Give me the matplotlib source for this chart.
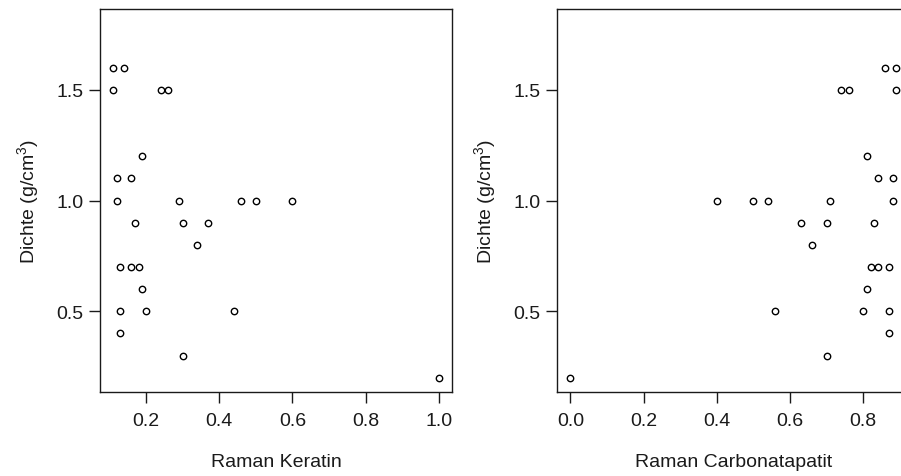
import matplotlib
matplotlib.use("Agg")
import matplotlib.pyplot as plt
import numpy as np

plt.rcParams['font.family'] = ['Liberation Sans', 'DejaVu Sans']
plt.rcParams['mathtext.fontset'] = 'custom'
plt.rcParams['mathtext.rm'] = 'Liberation Sans'
plt.rcParams['mathtext.it'] = 'Liberation Sans'

# Data
dichte_keratin = [1.6, 1.6, 1.5, 1.5, 1.5, 1.2, 1.1, 1.1, 1.0, 1.0, 1.0, 1.0, 1.0,
                  0.9, 0.9, 0.9, 0.8, 0.7, 0.7, 0.7, 0.6, 0.5, 0.5, 0.5, 0.4, 0.3, 0.2]
raman_keratin = [0.11, 0.14, 0.11, 0.24, 0.26, 0.19, 0.12, 0.16, 0.12, 0.29, 0.46, 0.50, 0.60,
                 0.17, 0.30, 0.37, 0.34, 0.13, 0.16, 0.18, 0.19, 0.13, 0.20, 0.44, 0.13, 0.30, 1.00]

dichte_carb = [1.6, 1.6, 1.5, 1.5, 1.5, 1.2, 1.1, 1.1, 1.0, 1.0, 1.0, 1.0, 1.0,
               0.9, 0.9, 0.9, 0.8, 0.7, 0.7, 0.7, 0.6, 0.5, 0.5, 0.5, 0.4, 0.3, 0.2]
raman_carb = [0.86, 0.89, 0.74, 0.76, 0.89, 0.81, 0.84, 0.88, 0.40, 0.50, 0.54, 0.71, 0.88,
              0.63, 0.70, 0.83, 0.66, 0.82, 0.84, 0.87, 0.81, 0.56, 0.80, 0.87, 0.87, 0.70, 0.00]

y_ticks = [0.5, 1.0, 1.5]
y_ticklabels = ["0.5", "1.0", "1.5"]
x_ticks_left = [0.2, 0.4, 0.6, 0.8, 1.0]
x_ticks_right = [0.0, 0.2, 0.4, 0.6, 0.8]
ylim_data = (0.2, 1.8)

W, H = 901, 477
fig = plt.figure(figsize=(W / 100, H / 100), dpi=100)

def r_lim(lo, hi):
    pad = 0.04 * (hi - lo)
    return lo - pad, hi + pad

FS = 14
ax_w = 352 / W
ax_h = 383 / H
ax_b = 84 / H
axes_info = [
    (100 / W, raman_keratin, dichte_keratin, x_ticks_left, "Raman Keratin"),
    (557.3 / W, raman_carb, dichte_carb, x_ticks_right, "Raman Carbonatapatit"),
]
for left, xs, ys, xt, xlabel in axes_info:
    ax = fig.add_axes([left, ax_b, ax_w, ax_h])
    ax.plot(xs, ys, linestyle='none', marker='o', markersize=4.6,
            markerfacecolor='none', markeredgecolor='black', markeredgewidth=1.0)
    ax.set_xlim(*r_lim(min(xs), max(xs)))
    ax.set_ylim(*r_lim(*ylim_data))
    ax.set_xticks(xt)
    ax.set_xticklabels([f"{v:.1f}" for v in xt])
    ax.set_yticks(y_ticks)
    ax.set_yticklabels(y_ticklabels)
    for s in ax.spines.values():
        s.set_linewidth(1.0)
        s.set_color('#1a1a1a')
    ax.tick_params(axis='both', direction='out', length=8, width=1.0,
                   color='#1a1a1a', labelsize=FS, labelcolor='#1a1a1a')
    ax.tick_params(axis='x', pad=6.5)
    ax.tick_params(axis='y', pad=4)
    ax.set_xlabel(xlabel, fontsize=FS, color='#1a1a1a')
    ax.xaxis.label.set_va('center')
    ax.xaxis.set_label_coords(0.5, (393 - 463) / 383)
    ax.set_ylabel("Dichte (g/cm$^3$)", fontsize=FS, color='#1a1a1a')
    ax.yaxis.label.set_va('center')
    ax.yaxis.set_label_coords(-0.204, 0.5)

fig.savefig("out.png", dpi=100)
